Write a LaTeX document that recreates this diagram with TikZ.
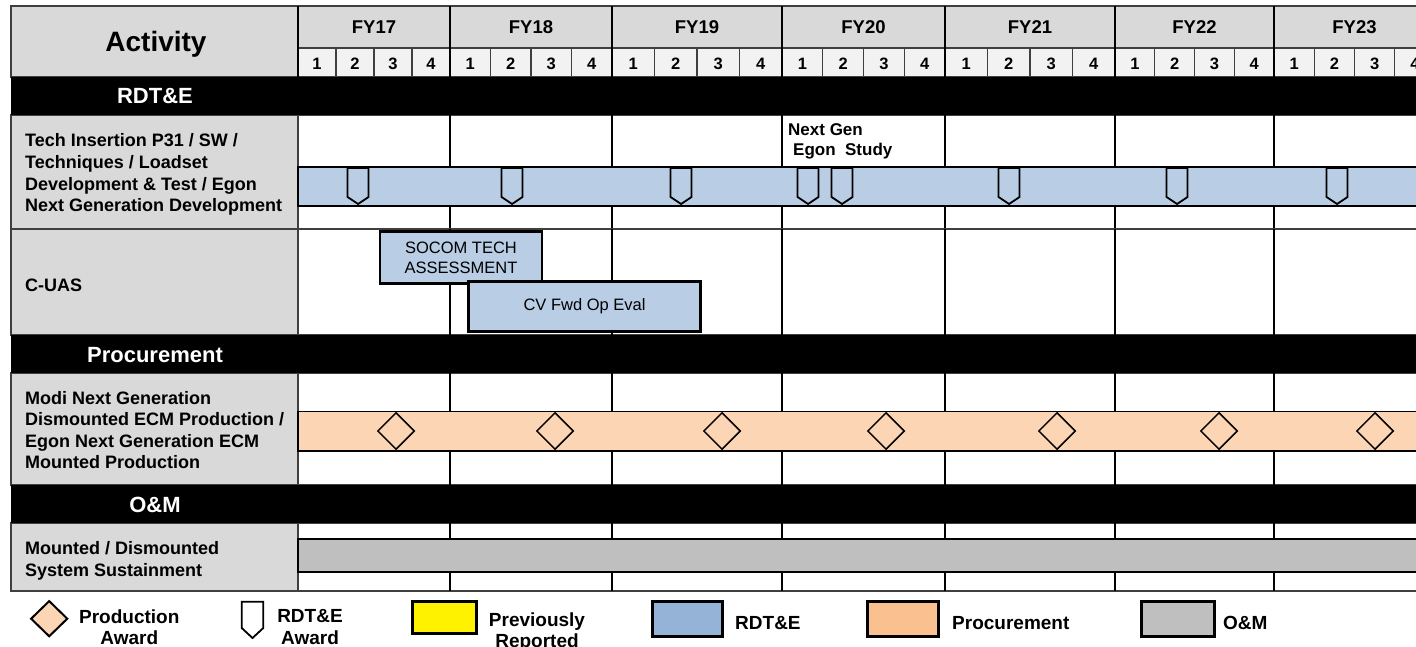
\documentclass[tikz,border=0pt]{standalone}
\usepackage{fontspec}
\setmainfont{Liberation Sans}
\usetikzlibrary{calc}
\usetikzlibrary{shapes.geometric}
\usetikzlibrary{positioning}

\definecolor{hdrgrey}{HTML}{D9D9D9}
\definecolor{qtrgrey}{HTML}{F2F2F2}
\definecolor{gridline}{HTML}{3F3F3F}
\definecolor{rdteblue}{HTML}{B9CDE5}
\definecolor{rdtekey}{HTML}{95B3D7}
\definecolor{procpeach}{HTML}{FCD5B5}
\definecolor{prockey}{HTML}{FAC090}
\definecolor{omgrey}{HTML}{BFBFBF}

\tikzset{
  hdrcell/.style={fill=hdrgrey,draw=gridline,line width=1.3pt},
  qtrcell/.style={fill=qtrgrey,draw=gridline,line width=1.1pt},
  yearline/.style={draw=black,line width=1.8pt},
  bandtext/.style={anchor=base,text=white,inner sep=0pt,font=\fontsize{22}{24}\selectfont\bfseries},
  acttext/.style={anchor=west,align=left,inner sep=0pt,font=\fontsize{18}{21.6}\selectfont\bfseries},
  bar/.style={draw=black,line width=2pt},
  taskbox/.style={rectangle,draw=black,line width=2.5pt,fill=rdteblue,align=center,inner sep=0pt,font=\fontsize{16.5}{20}\selectfont},
  award/.style={draw=black,line width=1.8pt,line join=miter},
  prodaward/.style={diamond,draw=black,line width=1.5pt,minimum width=37,minimum height=37,inner sep=0pt},
  keybox/.style={draw=black,line width=3pt},
  keytext/.style={align=center,inner sep=0pt,font=\fontsize{19}{21.7}\selectfont\bfseries},
}

\begin{document}
\begin{tikzpicture}[x=1pt,y=-1pt]
\useasboundingbox (0,0) rectangle (1416,647);
\clip (0,0) rectangle (1416,647);

\coordinate (LEFTCORNER) at (11,6);

%draw header
\draw[hdrcell] (LEFTCORNER) rectangle (298,77);
\node[anchor=base,inner sep=0pt,font=\fontsize{28}{30}\selectfont\bfseries] at (156,51.7) (activity) {Activity};

\foreach \ya/\yb/\fy in {298/450/17,450/612/18,612/782/19,782/945/20,945/1115/21,1115/1274/22,1274/1435/23}{
  \draw[hdrcell] (\ya,6) rectangle (\yb,48);
  \node[anchor=base,inner sep=0pt,font=\fontsize{18.5}{20}\selectfont\bfseries] at ({(\ya+\yb)/2},33.3) (fy\fy) {FY\fy};
  \foreach \q in {1,...,4}{
    \pgfmathsetmacro\qa{\ya+(\q-1)*(\yb-\ya)/4}
    \pgfmathsetmacro\qb{\ya+\q*(\yb-\ya)/4}
    \draw[qtrcell] (\qa,48) rectangle (\qb,77);
    \node[anchor=base,inner sep=0pt,font=\fontsize{16.5}{18}\selectfont\bfseries] at ({(\qa+\qb)/2},69.3) (q\fy-\q) {\q};
  }
  \draw[yearline,line width=1.3pt] (\ya,6) -- (\ya,77);
}

%%%%%%%

%draw activity rows, label cell on the left + year grid on the right
\foreach \ra/\rb in {115/229,229/335,373/485,523/591}{
  \draw[hdrcell] (11,\ra) rectangle (298,\rb);
  \draw[draw=gridline,line width=1.3pt] (298,\ra) rectangle (1435,\rb);
  \foreach \yx in {450,612,782,945,1115,1274}
    \draw[yearline] (\yx,\ra) -- (\yx,\rb);
}

%draw black section bands
\foreach \ba/\bb/\bname/\btext in {77/115/bandrdte/{RDT\&E},335/373/bandproc/{Procurement},485/523/bandom/{O\&M}}{
  \fill[black] (11,\ba) rectangle (1435,\bb);
  \node[bandtext] at (155,{(\ba+\bb)/2+8}) (\bname) {\btext};
}

%row labels
\node[acttext] at (25,174.6) (techins) {Tech Insertion P31 / SW /\\Techniques / Loadset\\Development \& Test / Egon\\Next Generation Development};
\node[acttext,anchor=base west] at (25,291.7) (cuas) {C-UAS};
\node[acttext] at (25,430.1) (modi) {Modi Next Generation\\Dismounted ECM Production /\\Egon Next Generation ECM\\Mounted Production};
\node[acttext] at (25,560.9) (sustain) {Mounted / Dismounted\\System Sustainment};

%%%%%%%

%RDT&E bar with award markers
\draw[bar,fill=rdteblue] (298,167) rectangle (1435,206);
\foreach \x in {358,512,681,808,842,1009,1177,1337}
  \draw[award] (\x-10.5,168) -- (\x-10.5,197) -- (\x,204) -- (\x+10.5,197) -- (\x+10.5,168) -- cycle;
\node[anchor=west,align=left,inner sep=0pt,font=\fontsize{17}{20}\selectfont\bfseries] at (788,141.7) (nextgen) {Next Gen\\\hspace*{5pt}Egon\ \ Study};

%C-UAS tasks
\node[taskbox,minimum width=161.7,minimum height=51.6] at (461,257.5) (socom) {SOCOM TECH\\ASSESSMENT};
\node[taskbox,minimum width=232.4,minimum height=50] at (584.5,306.7) (cvfwd) {CV Fwd Op Eval};

%procurement bar with production awards
\draw[bar,line width=1.6pt,fill=procpeach] (298,411.5) rectangle (1435,451);
\foreach \x/\n in {396/1,555/2,722/3,886/4,1057/5,1219/6,1375/7}
  \node[prodaward] at (\x,431) (prod\n) {};

%O&M bar
\draw[bar,fill=omgrey] (298,539) rectangle (1435,572);

%%%%%%%

%legend
\node[prodaward,line width=2pt,fill=procpeach,minimum height=36] at (49.2,618.7) (keyprod) {};
\node[keytext] at (129.3,627.2) (keyprodtxt) {Production\\Award};
\draw[award,fill=white] (241.7,601.7) -- (241.7,628) -- (252.5,638) -- (263.3,628) -- (263.3,601.7) -- cycle;
\node[keytext] at (310,627.3) (keyawardtxt) {RDT\&E\\Award};
\draw[keybox,fill=yellow] (412.7,601.5) rectangle (476.3,633);
\node[keytext] at (537,632) (keyprevtxt) {Previously\\Reported};
\draw[keybox,fill=rdtekey] (652,601.7) rectangle (722,636.3);
\node[keytext,anchor=base west] at (735,629.5) (keyrdtetxt) {RDT\&E};
\draw[keybox,fill=prockey] (867,601.7) rectangle (938,636.3);
\node[keytext,anchor=base west] at (952,629.5) (keyproctxt) {Procurement};
\draw[keybox,fill=omgrey] (1141,601.7) rectangle (1214,636.3);
\node[keytext,anchor=base west] at (1223,629.5) (keyomtxt) {O\&M};

\end{tikzpicture}
\end{document}
